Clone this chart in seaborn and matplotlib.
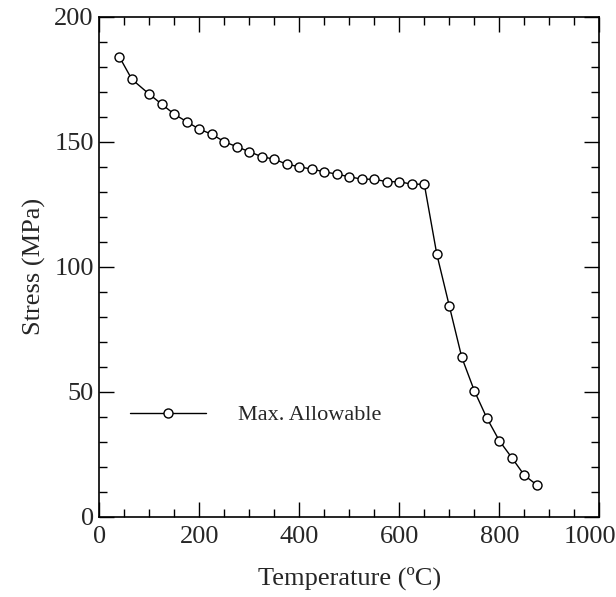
import matplotlib
matplotlib.use("Agg")
import matplotlib.pyplot as plt
from matplotlib.ticker import MultipleLocator, FuncFormatter
import pandas as pd
import seaborn as sns

# Maximum allowable stress versus temperature
temperature = [40, 65, 100, 125, 150, 175, 200, 225, 250, 275, 300, 325, 350,
               375, 400, 425, 450, 475, 500, 525, 550, 575, 600, 625, 650,
               675, 700, 725, 750, 775, 800, 825, 850, 875]
stress = [184, 175, 169, 165, 161, 158, 155, 153, 150, 148, 146, 144, 143,
          141, 140, 139, 138, 137, 136, 135, 135, 134, 134, 133, 133,
          105, 84.3, 63.7, 50.4, 39.5, 30.4, 23.6, 16.6, 12.7]
series_label = "Max. Allowable"
x_max = 1000

df = pd.DataFrame({"Temperature": temperature, "Stress": stress,
                   "Series": series_label})

sns.set_style("ticks")
plt.rcParams["font.family"] = ["Liberation Serif", "DejaVu Serif"]
FS = 19

fig = plt.figure(figsize=(6.16, 5.97), dpi=100)
ax = fig.add_axes([0.1612, 0.1345, 0.8117, 0.8375])

sns.lineplot(data=df, x="Temperature", y="Stress", hue="Series",
             palette=["black"], marker="o", markersize=6.5,
             markerfacecolor="white", markeredgecolor="black",
             markeredgewidth=1.0, linewidth=1.0, ax=ax)

ax.set_xlim(0, x_max)
ax.set_ylim(0, 200)
ax.xaxis.set_major_locator(MultipleLocator(200))
ax.xaxis.set_minor_locator(MultipleLocator(50))
ax.yaxis.set_major_locator(MultipleLocator(50))
ax.yaxis.set_minor_locator(MultipleLocator(10))
# the last x label is placed separately so it stays inside the figure
ax.xaxis.set_major_formatter(
    FuncFormatter(lambda v, p: "" if v >= x_max else f"{v:g}"))
ax.tick_params(which="both", direction="in", top=True, right=True,
               color="black", width=1.0)
ax.tick_params(which="major", length=11, labelsize=FS)
ax.tick_params(axis="x", which="major", pad=7)
ax.tick_params(axis="y", which="major", pad=4)
ax.tick_params(which="minor", length=5.5)
for s in ax.spines.values():
    s.set_linewidth(1.2)
    s.set_color("black")

ax.annotate(f"{x_max:g}", xy=(x_max, 0), xycoords=("data", "axes fraction"),
            xytext=(-7, -7), textcoords="offset points",
            ha="center", va="top", fontsize=FS)

ax.set_xlabel("Temperature (ºC)", fontsize=FS, labelpad=13)
ax.set_ylabel("Stress (MPa)", fontsize=FS, labelpad=6)

handles, labels = ax.get_legend_handles_labels()
ax.legend(handles, labels, loc="center left", bbox_to_anchor=(0.0614, 0.203),
          frameon=False, fontsize=16, handlelength=3.4, handletextpad=1.45,
          borderpad=0, borderaxespad=0, numpoints=1)

fig.savefig("out.png", dpi=100)
